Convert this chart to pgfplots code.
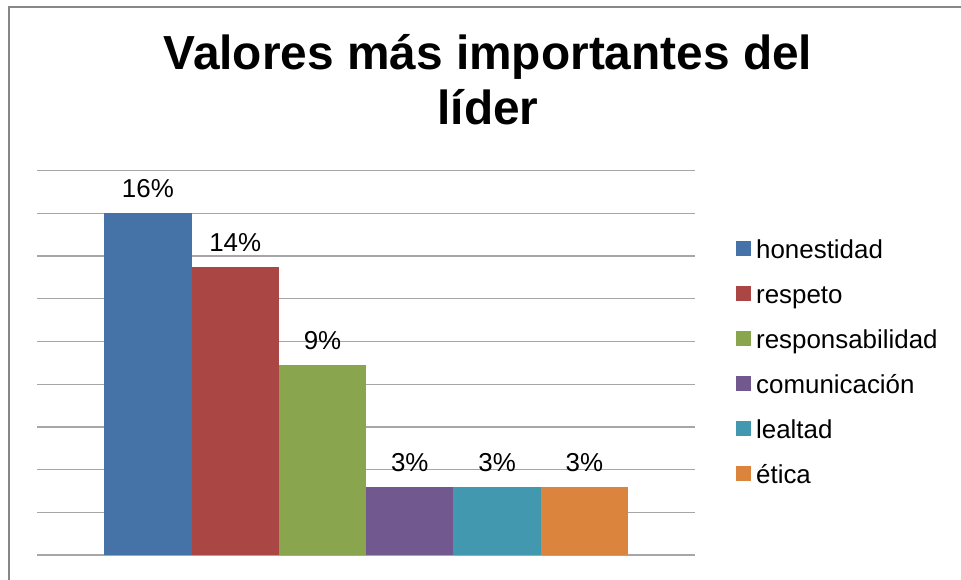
\documentclass[border=0pt]{standalone}
\usepackage{fontspec}
\setmainfont{Liberation Sans}
\usepackage{pgfplots}
\pgfplotsset{compat=1.18}
\definecolor{honest}{HTML}{4572A7}
\definecolor{resp}{HTML}{AA4643}
\definecolor{respons}{HTML}{89A54E}
\definecolor{comun}{HTML}{71588F}
\definecolor{leal}{HTML}{4198AF}
\definecolor{etica}{HTML}{DB843D}
\definecolor{frame}{HTML}{878787}
\definecolor{gridc}{HTML}{A6A6A6}
\begin{document}
\begin{tikzpicture}[x=1bp,y=1bp]
\useasboundingbox (0,0) rectangle (961,580);
\draw[frame, line width=2.2bp] (9,0) -- (9,573) -- (961,573);
\begin{axis}[
  at={(37.3bp,25bp)}, anchor=south west,
  scale only axis, width=657.7bp, height=384.3bp,
  ymin=0, ymax=18, xmin=-1, xmax=1,
  ybar=0pt, bar width=87.3bp,
  ytick={0,2,...,18}, yticklabels={}, ymajorgrids,
  grid style={gridc, line width=1.3bp},
  xtick=\empty, axis line style={draw=none}, major tick length=0pt,
  every node near coord/.append style={font=\fontsize{26}{30}\selectfont,
    anchor=south, inner sep=0pt, yshift=15bp, text=black},
  title={Valores más importantes del\\líder},
  title style={at={(0.6853,1)}, anchor=south, align=center, inner sep=0pt,
    font=\fontsize{48}{55}\selectfont\bfseries, yshift=40bp},
  legend style={at={(1.0623,0.8226)}, anchor=north west, draw=none, fill=none,
    inner sep=0pt, row sep=21bp, font=\fontsize{26}{30}\selectfont,
    nodes={inner sep=0pt, text height=19bp, text depth=5bp},
    /tikz/every odd column/.style={column sep=5bp}},
  legend cell align=left,
  legend image code/.code={\fill[#1] (0bp,-5bp) rectangle (15bp,10bp);},
]
\addplot[fill=honest, draw=none, nodes near coords={16\%}] coordinates {(0,16)};
\addplot[fill=resp, draw=none, nodes near coords={14\%}] coordinates {(0,13.5)};
\addplot[fill=respons, draw=none, nodes near coords={9\%}] coordinates {(0,8.9)};
\addplot[fill=comun, draw=none, nodes near coords={3\%}] coordinates {(0,3.2)};
\addplot[fill=leal, draw=none, nodes near coords={3\%}] coordinates {(0,3.2)};
\addplot[fill=etica, draw=none, nodes near coords={3\%}] coordinates {(0,3.2)};
\legend{honestidad, respeto, responsabilidad, comunicación, lealtad, ética}
\end{axis}
\end{tikzpicture}
\end{document}
